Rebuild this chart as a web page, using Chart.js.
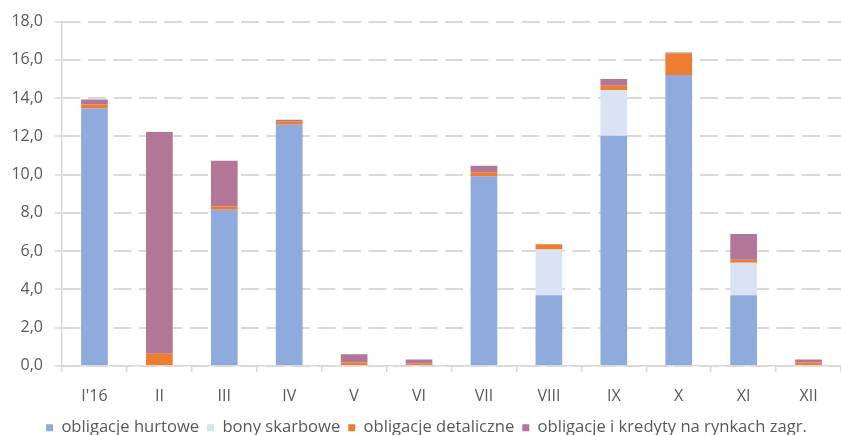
<!DOCTYPE html>
<html lang="pl">
<head>
<meta charset="utf-8">
<title>Emisja długu 2016</title>
<script src="https://cdn.jsdelivr.net/npm/chart.js@4/dist/chart.umd.min.js"></script>
<style>
  html, body { margin: 0; padding: 0; background: #ffffff; }
  #wrap { width: 841px; height: 435px; }
</style>
</head>
<body>
<div id="wrap"><canvas id="c" width="841" height="435"></canvas></div>
<script>
// Miesiące 2016 r.
const months = ["I'16", "II", "III", "IV", "V", "VI", "VII", "VIII", "IX", "X", "XI", "XII"];

// Wartości (mld zł) w podziale na instrumenty
const hurtowe     = [13.46, 0,     8.16, 12.61, 0,    0,    9.92, 3.69, 12.03, 15.21, 3.69, 0];
const bony        = [0,     0,     0,    0,     0,    0,    0,    2.39, 2.39,  0,     1.70, 0];
const detaliczne  = [0.21,  0.64,  0.19, 0.18,  0.18, 0.12, 0.20, 0.28, 0.22,  1.13,  0.16, 0.18];
const zagraniczne = [0.26,  11.59, 2.38, 0.08,  0.43, 0.21, 0.34, 0,    0.36,  0.05,  1.35, 0.15];

// Etykiety osi Y
const yTicks = [0, 2, 4, 6, 8, 10, 12, 14, 16, 18];

const seriesNames = ["obligacje hurtowe", "bony skarbowe", "obligacje detaliczne", "obligacje i kredyty na rynkach zagr."];
const seriesColors = ["#8faadc", "#dae3f3", "#ed7d31", "#b27697"];
const seriesData = [hurtowe, bony, detaliczne, zagraniczne];

const textColor = "#595959";
const lineColor = "#d9d9d9";
const fontFamily = "'Open Sans', 'Liberation Sans', sans-serif";

Chart.defaults.font.family = fontFamily;
Chart.defaults.color = textColor;

// Przesunięcie legendy w poziomie, tak by była wyśrodkowana pod obszarem wykresu
const legendShift = {
  id: "legendShift",
  afterLayout(chart) {
    const lg = chart.legend;
    if (!lg) return;
    const dx = 6;
    lg.left += dx;
    lg.right += dx;
  }
};

new Chart(document.getElementById("c"), {
  type: "bar",
  data: {
    labels: months,
    datasets: seriesData.map((values, i) => ({
      label: seriesNames[i],
      data: values,
      backgroundColor: seriesColors[i],
      borderWidth: 0,
      stack: "all",
      categoryPercentage: 1,
      barPercentage: 0.411
    }))
  },
  plugins: [legendShift],
  options: {
    responsive: false,
    animation: false,
    devicePixelRatio: 1,
    layout: { padding: { left: 0, right: 0, top: 19, bottom: -11 } },
    plugins: {
      legend: {
        position: "bottom",
        labels: {
          boxWidth: 7,
          boxHeight: 7,
          padding: 8,
          color: textColor,
          font: { size: 16.6, family: fontFamily }
        }
      },
      tooltip: { enabled: false }
    },
    scales: {
      x: {
        stacked: true,
        offset: true,
        grid: {
          display: true,
          offset: true,
          drawOnChartArea: false,
          drawTicks: true,
          tickLength: 6,
          color: lineColor,
          lineWidth: 1.5
        },
        border: { display: true, color: lineColor, width: 1.5 },
        ticks: {
          color: textColor,
          padding: 15,
          maxRotation: 0,
          autoSkip: false,
          font: { size: 16, family: fontFamily }
        },
        afterFit: (scale) => { scale.height = 45.5; }
      },
      y: {
        stacked: true,
        min: 0,
        max: 18,
        afterBuildTicks: (scale) => { scale.ticks = yTicks.map(v => ({ value: v })); },
        grid: {
          color: lineColor,
          lineWidth: 2,
          drawTicks: true,
          tickLength: 7,
          tickColor: lineColor,
          tickWidth: 1.5,
          tickBorderDash: []
        },
        border: { display: true, color: lineColor, width: 1.5, dash: [18, 7.5] },
        ticks: {
          color: textColor,
          padding: 12,
          font: { size: 16, family: fontFamily },
          callback: (v) => Number(v).toFixed(1).replace(".", ",")
        },
        afterFit: (scale) => { scale.width = 62; }
      }
    }
  }
});
</script>
</body>
</html>
